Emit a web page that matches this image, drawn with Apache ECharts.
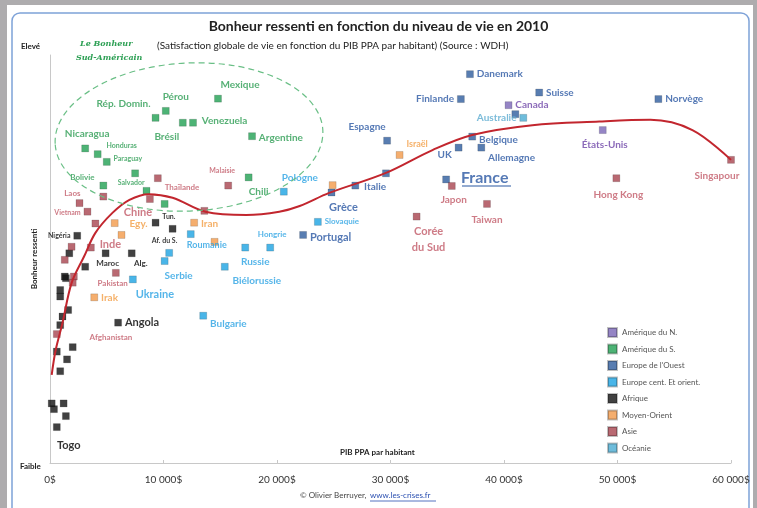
<!DOCTYPE html>
<html>
<head>
<meta charset="utf-8">
<script src="https://cdn.jsdelivr.net/npm/echarts@6/dist/echarts.min.js"></script>
<style>
  html, body { margin: 0; padding: 0; background: #aeacae; }
  #main { width: 757px; height: 508px; }
</style>
</head>
<body>
<div id="main"></div>
<script>
// groupes (légende)
var groups = ["Amérique du N.", "Amérique du S.", "Europe de l'Ouest", "Europe cent. Et orient.", "Afrique", "Moyen-Orient", "Asie", "Océanie"];
var xTicks = [0, 10000, 20000, 30000, 40000, 50000, 60000];

// [pays, PIB PPA par habitant, bonheur (échelle relative)]
var amNord = [["Canada", 40400, 8.77], ["États-Unis", 48700, 8.16]];
var amSud = [
  ["Mexique", 14800, 8.93], ["Pérou", 10200, 8.63], ["Rép. Domin.", 9300, 8.46],
  ["Brésil", 11700, 8.34], ["Venezuela", 12600, 8.34], ["Argentine", 17800, 8.01],
  ["Nicaragua", 3100, 7.71], ["Honduras", 4200, 7.57], ["Paraguay", 5000, 7.38],
  ["Salvador", 7500, 7.10], ["Bolivie", 4700, 6.80], ["Chili", 17500, 7.00],
  ["", 8500, 6.67], ["", 10100, 6.35]
];
var europeOuest = [
  ["Danemark", 37000, 9.53], ["Finlande", 36200, 8.92], ["Suisse", 43100, 9.08],
  ["Norvège", 53600, 8.92], ["", 41000, 8.55], ["Belgique", 37200, 8.00],
  ["Allemagne", 38000, 7.73], ["UK", 36000, 7.73], ["Espagne", 29700, 7.90],
  ["France", 34900, 6.95], ["Italie", 26900, 6.80], ["", 29600, 7.10],
  ["Grèce", 24800, 6.63], ["Portugal", 22300, 5.59]
];
var europeEst = [
  ["Pologne", 20600, 6.65], ["Slovaquie", 23600, 5.91], ["Hongrie", 19400, 5.28],
  ["Russie", 17200, 5.28], ["Roumanie", 12400, 5.61], ["", 10500, 5.15],
  ["Serbie", 10100, 4.95], ["Biélorussie", 15400, 4.81], ["Ukraine", 7300, 4.50],
  ["Bulgarie", 13500, 3.61]
];
var afrique = [
  ["Tun.", 9300, 5.89], ["Af. du S.", 10800, 5.74], ["Nigéria", 2400, 5.57],
  ["Maroc", 4900, 5.14], ["Alg.", 7200, 5.14], ["Angola", 6000, 3.44],
  ["", 1700, 5.14], ["", 3100, 4.81], ["", 1300, 4.57], ["", 1400, 4.53],
  ["", 900, 4.24], ["", 900, 4.08], ["", 1600, 3.75], ["", 1100, 3.59],
  ["", 900, 3.38], ["", 2000, 2.84], ["", 600, 2.73], ["", 1500, 2.54],
  ["", 900, 2.25], ["", 150, 1.46], ["", 1200, 1.46], ["", 350, 1.32],
  ["", 1400, 1.15], ["Togo", 600, 0.88]
];
var moyenOrient = [
  ["Israël", 30800, 7.55], ["", 24900, 6.81], ["Iran", 12700, 5.89],
  ["", 14500, 5.42], ["Egy.", 5700, 5.88], ["", 6300, 5.59], ["Irak", 3900, 4.06]
];
var asie = [
  ["Singapour", 60000, 7.43], ["Hong Kong", 49900, 6.98], ["Japon", 35400, 6.79],
  ["Taiwan", 38500, 6.35], ["Corée\ndu Sud", 32300, 6.04], ["Malaisie", 15700, 6.80],
  ["Thaïlande", 9500, 6.98], ["Chine", 8800, 6.47], ["", 13600, 6.18],
  ["Laos", 4700, 6.53], ["", 2600, 6.37], ["Vietnam", 3300, 6.16], ["", 4000, 5.87],
  ["Inde", 3600, 5.28], ["", 1900, 5.30], ["", 1300, 4.98], ["", 2100, 4.57],
  ["", 5800, 4.66], ["Pakistan", 2000, 4.42], ["Afghanistan", 600, 3.16]
];
var oceanie = [["Australie", 41700, 8.46]];

// courbe de tendance
var trendX = [150, 500, 1100, 1900, 3000, 4000, 5500, 7000, 8700, 10800, 13700, 17300, 20200, 22000, 24600, 29600, 33700, 37200, 42500, 48400, 52900, 56600, 60000];
var trendY = [2.16, 2.77, 3.43, 4.41, 5.06, 5.64, 6.13, 6.45, 6.59, 6.50, 6.16, 6.08, 6.16, 6.30, 6.62, 7.11, 7.67, 8.04, 8.28, 8.37, 8.41, 8.16, 7.43];

var markerColors = ["#7a66b6", "#20a052", "#2e5c9e", "#1ba3e2", "#111111", "#f39a4a", "#a8434f", "#4aabd2"];
var textColors = ["#6e45a8", "#2c9c52", "#2a58a2", "#2aa3e3", "#000000", "#f29e45", "#c25a68", "#5aaad0"];

// placement des étiquettes : [position, dx, dy, taille]
var labelPos = {
  "Danemark": ["right", 0, 0, 10], "Finlande": ["left", 0, 0, 10], "Suisse": ["right", 0, 0, 10],
  "Norvège": ["right", 0, 0, 10], "Canada": ["right", 0, 0, 10], "Australie": ["left", 0, 0, 10],
  "Espagne": ["top", -20, 0, 10], "Israël": ["right", 0, -11, 9], "UK": ["left", 0, 7, 10],
  "Belgique": ["right", 0, 3, 10], "Allemagne": ["right", 0, 10, 10], "États-Unis": ["bottom", 2, 0, 10],
  "Singapour": ["bottom", -14, 2, 10], "France": ["right", 8, -2, 16], "Japon": ["bottom", 2, 0, 10],
  "Hong Kong": ["bottom", 2, 2, 10], "Taiwan": ["bottom", 0, 2, 10], "Corée\ndu Sud": ["bottom", 12, 0, 11],
  "Italie": ["right", 2, 1, 10], "Grèce": ["bottom", 12, 0, 11], "Portugal": ["right", 0, 3, 11],
  "Pologne": ["top", 16, 0, 10], "Slovaquie": ["right", 0, 0, 8], "Hongrie": ["top", 2, 0, 8],
  "Russie": ["bottom", 10, 0, 10], "Roumanie": ["bottom", 16, -3, 9], "Serbie": ["bottom", 14, 0, 10],
  "Biélorussie": ["bottom", 32, 0, 10], "Ukraine": ["bottom", 22, 0, 11], "Bulgarie": ["right", 0, 8, 10],
  "Mexique": ["top", 22, 0, 10], "Pérou": ["top", 10, 0, 10], "Rép. Domin.": ["top", -32, 0, 10],
  "Brésil": ["bottom", -16, 0, 10], "Venezuela": ["right", 2, -2, 10], "Argentine": ["right", 0, 2, 10],
  "Nicaragua": ["top", 2, 0, 10], "Honduras": ["right", 2, -8, 7], "Paraguay": ["right", 0, -3, 7],
  "Salvador": ["bottom", -4, -3, 7], "Bolivie": ["left", -2, -8, 8], "Chili": ["bottom", 10, 0, 10],
  "Malaisie": ["top", -6, -2, 7], "Thaïlande": ["right", 0, 9, 8], "Chine": ["bottom", -12, -1, 11],
  "Laos": ["left", -16, -3, 8], "Vietnam": ["left", 0, 1, 7], "Inde": ["right", 2, -3, 11],
  "Pakistan": ["right", 18, 1, 8], "Afghanistan": ["right", 26, 3, 8], "Tun.": ["right", 0, -6, 7],
  "Af. du S.": ["bottom", -8, -1, 7], "Nigéria": ["left", 0, 0, 7], "Maroc": ["bottom", 2, -3, 8],
  "Alg.": ["bottom", 9, -3, 8], "Angola": ["right", 0, 0, 11], "Togo": ["bottom", 12, 4, 11],
  "Iran": ["right", 0, 1, 10], "Egy.": ["right", 8, 1, 10], "Irak": ["right", 0, 0, 10]
};

function buildSeries(name, rows, idx) {
  return {
    name: name,
    type: "scatter",
    symbol: "rect",
    symbolSize: 7,
    z: 3,
    itemStyle: {
      color: markerColors[idx],
      borderColor: "rgba(0,0,0,0.3)",
      borderWidth: 0.6
    },
    data: rows.map(function (r) {
      var p = labelPos[r[0]];
      var item = { name: r[0], value: [r[1], r[2]] };
      if (r[0] && p) {
        item.label = {
          show: true,
          position: p[0],
          offset: [p[1], p[2]],
          distance: 3,
          fontSize: p[3],
          lineHeight: p[3] + 5,
          formatter: "{b}",
          color: textColors[idx],
          fontWeight: "bold",
          fontFamily: "Lato, 'Open Sans', sans-serif",
          align: p[0] === "left" ? "right" : (p[0] === "right" ? "left" : "center")
        };
      }
      return item;
    })
  };
}

var allGroups = [amNord, amSud, europeOuest, europeEst, afrique, moyenOrient, asie, oceanie];
var series = allGroups.map(function (g, i) { return buildSeries(groups[i], g, i); });

series.push({
  name: "tendance",
  type: "line",
  smooth: 0.35,
  symbol: "none",
  z: 4,
  silent: true,
  lineStyle: { color: "#c2262e", width: 2 },
  data: trendX.map(function (x, i) { return [x, trendY[i]]; })
});

var myChart = echarts.init(document.getElementById("main"));
var option = {
  backgroundColor: "#aeacae",
  animation: false,
  textStyle: { fontFamily: "Lato, 'Open Sans', sans-serif" },
  grid: { left: 50, right: 26, top: 55, bottom: 45 },
  legend: {
    data: groups,
    orient: "vertical",
    left: 602,
    top: 322,
    icon: "rect",
    itemWidth: 9,
    itemHeight: 9,
    itemGap: 5.5,
    textStyle: { fontSize: 8, color: "#555" },
    selectedMode: false
  },
  xAxis: {
    type: "value",
    min: 0,
    max: 60000,
    interval: 10000,
    axisLine: { lineStyle: { color: "#c8c8c8" } },
    axisTick: { show: true, inside: true, length: 3, lineStyle: { color: "#c8c8c8" } },
    splitLine: { show: false },
    axisLabel: {
      margin: 12,
      fontSize: 10,
      color: "#333",
      formatter: function (v) { return v === 0 ? "0$" : (v / 1000) + " 000$"; }
    }
  },
  yAxis: {
    type: "value",
    min: 0,
    max: 10,
    name: "Bonheur ressenti",
    nameLocation: "middle",
    nameRotate: 90,
    nameGap: 12,
    nameTextStyle: { fontSize: 8, fontWeight: "bold", color: "#222" },
    axisLine: { show: true, lineStyle: { color: "#c8c8c8" } },
    axisTick: { show: false },
    axisLabel: { show: false },
    splitLine: { show: false }
  },
  graphic: {
    elements: [
      { type: "rect", z: -100, shape: { x: 7, y: 5, width: 746, height: 510 }, style: { fill: "#ffffff" } },
      { type: "rect", z: -99, shape: { x: 12, y: 13, width: 737, height: 520, r: 8 }, style: { fill: "#ffffff", stroke: "#7ea2d8", lineWidth: 1.5 } },
      { type: "text", left: "center", top: 19, style: { text: "Bonheur ressenti en fonction du niveau de vie en 2010", font: "bold 14px Lato, sans-serif", fill: "#222" } },
      { type: "text", x: 157, y: 41, style: { text: "(Satisfaction globale de vie en fonction du PIB PPA par habitant) (Source : WDH)", font: "10px Lato, sans-serif", fill: "#222" } },
      { type: "text", x: 21, y: 42, style: { text: "Elevé", font: "bold 8px Lato, sans-serif", fill: "#222" } },
      { type: "text", x: 20, y: 462, style: { text: "Faible", font: "bold 8px Lato, sans-serif", fill: "#222" } },
      { type: "text", x: 340, y: 448, style: { text: "PIB PPA par habitant", font: "bold 8px Lato, sans-serif", fill: "#222" } },
      { type: "text", x: 80, y: 40, style: { text: "Le Bonheur", font: "italic bold 8px 'DejaVu Serif', serif", fill: "#2ea055" } },
      { type: "text", x: 76, y: 54, style: { text: "Sud-Américain", font: "italic bold 8px 'DejaVu Serif', serif", fill: "#2ea055" } },
      { type: "ellipse", z: 5, x: 189, y: 137, rotation: 0.05, shape: { cx: 0, cy: 0, rx: 134, ry: 74 }, style: { fill: "none", stroke: "#6abf86", lineWidth: 1.2, lineDash: [6, 4] } },
      { type: "line", z: 10, shape: { x1: 462, y1: 186, x2: 511, y2: 186 }, style: { stroke: "#2a58a2", lineWidth: 1.2 } },
      { type: "text", x: 300, y: 491, style: { text: "© Olivier Berruyer, ", font: "8px Lato, sans-serif", fill: "#444" } },
      { type: "text", x: 370, y: 491, style: { text: "www.les-crises.fr", font: "8px Lato, sans-serif", fill: "#2a4fb0" } },
      { type: "line", shape: { x1: 370, y1: 501, x2: 436, y2: 501 }, style: { stroke: "#2a4fb0", lineWidth: 0.8 } }
    ]
  },
  series: series
};
if (option && typeof option === "object") {
  myChart.setOption(option);
}
</script>
</body>
</html>
